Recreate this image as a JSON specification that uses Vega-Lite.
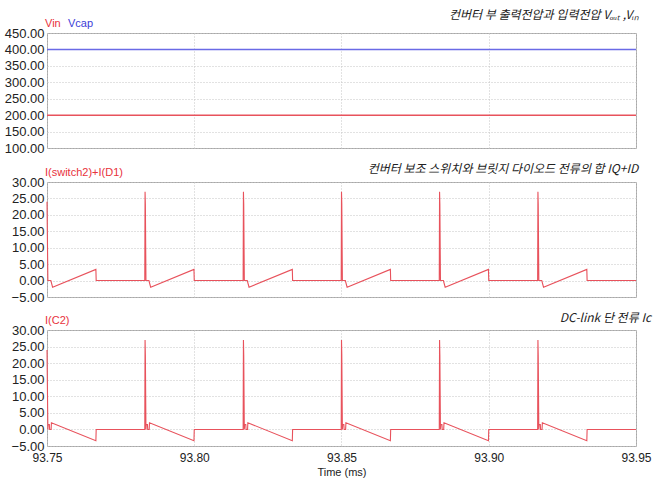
{
  "$schema": "https://vega.github.io/schema/vega-lite/v6.json",
  "padding": {"left": 3, "top": 8, "right": 5, "bottom": 2},
  "background": "white",
  "spacing": 6,
  "config": {
    "view": {"stroke": "#a8a8a8", "strokeWidth": 1},
    "font": "Liberation Sans",
    "axis": {"gridColor": "#c4c4c4", "gridDash": [1, 2], "domain": false, "ticks": false, "labelFontSize": 13, "labelColor": "#222222", "labelFont": "Liberation Sans", "labelPadding": 3},
    "title": {"font": "Noto Sans CJK KR", "fontStyle": "italic", "fontWeight": "normal", "fontSize": 12, "anchor": "end", "color": "#222222", "offset": -4},
    "legend": {"orient": "none", "legendX": -3, "legendY": -15, "direction": "horizontal", "title": null, "symbolSize": 0, "symbolStrokeWidth": 0, "symbolOpacity": 0, "labelOffset": -10, "columnPadding": 6, "labelFontSize": 11, "labelFont": "Liberation Sans"}
  },
  "resolve": {"scale": {"color": "independent"}, "legend": {"color": "independent"}},
  "datasets": {
    "volt": [
      {"t": 93.75, "v": 200, "s": "Vin"}, {"t": 93.95, "v": 200, "s": "Vin"},
      {"t": 93.75, "v": 400, "s": "Vcap"}, {"t": 93.95, "v": 400, "s": "Vcap"}
    ],
    "isw": [
      {"t": 93.75, "v": 24}, {"t": 93.7503, "v": 0}, {"t": 93.7513, "v": 0}, {"t": 93.7519, "v": -2.0}, {"t": 93.7666, "v": 3.4}, {"t": 93.7667, "v": 0},
      {"t": 93.7832, "v": 0}, {"t": 93.7833, "v": 27}, {"t": 93.7834, "v": 23.3}, {"t": 93.7836, "v": 0}, {"t": 93.7846, "v": 0}, {"t": 93.7852, "v": -2.0}, {"t": 93.7999, "v": 3.4}, {"t": 93.8000, "v": 0},
      {"t": 93.8166, "v": 0}, {"t": 93.8167, "v": 27}, {"t": 93.8168, "v": 23.3}, {"t": 93.8170, "v": 0}, {"t": 93.8180, "v": 0}, {"t": 93.8186, "v": -2.0}, {"t": 93.8333, "v": 3.4}, {"t": 93.8334, "v": 0},
      {"t": 93.8499, "v": 0}, {"t": 93.8500, "v": 27}, {"t": 93.8501, "v": 23.3}, {"t": 93.8503, "v": 0}, {"t": 93.8513, "v": 0}, {"t": 93.8519, "v": -2.0}, {"t": 93.8666, "v": 3.4}, {"t": 93.8667, "v": 0},
      {"t": 93.8832, "v": 0}, {"t": 93.8833, "v": 27}, {"t": 93.8834, "v": 23.3}, {"t": 93.8836, "v": 0}, {"t": 93.8846, "v": 0}, {"t": 93.8852, "v": -2.0}, {"t": 93.8999, "v": 3.4}, {"t": 93.9000, "v": 0},
      {"t": 93.9166, "v": 0}, {"t": 93.9167, "v": 27}, {"t": 93.9168, "v": 23.3}, {"t": 93.9170, "v": 0}, {"t": 93.9180, "v": 0}, {"t": 93.9186, "v": -2.0}, {"t": 93.9333, "v": 3.4}, {"t": 93.9334, "v": 0},
      {"t": 93.95, "v": 0}
    ],
    "ic2": [
      {"t": 93.75, "v": 24}, {"t": 93.7503, "v": 0}, {"t": 93.7504, "v": 1.5}, {"t": 93.7508, "v": 1.5}, {"t": 93.7509, "v": 0}, {"t": 93.7514, "v": 0}, {"t": 93.7515, "v": 2.0}, {"t": 93.7666, "v": -3.4}, {"t": 93.7667, "v": 0},
      {"t": 93.7832, "v": 0}, {"t": 93.7833, "v": 27}, {"t": 93.7834, "v": 22.5}, {"t": 93.7836, "v": 0}, {"t": 93.7837, "v": 1.5}, {"t": 93.7841, "v": 1.5}, {"t": 93.7842, "v": 0}, {"t": 93.7847, "v": 0}, {"t": 93.7848, "v": 2.0}, {"t": 93.7999, "v": -3.4}, {"t": 93.8000, "v": 0},
      {"t": 93.8166, "v": 0}, {"t": 93.8167, "v": 27}, {"t": 93.8168, "v": 22.5}, {"t": 93.8170, "v": 0}, {"t": 93.8171, "v": 1.5}, {"t": 93.8175, "v": 1.5}, {"t": 93.8176, "v": 0}, {"t": 93.8181, "v": 0}, {"t": 93.8182, "v": 2.0}, {"t": 93.8333, "v": -3.4}, {"t": 93.8334, "v": 0},
      {"t": 93.8499, "v": 0}, {"t": 93.8500, "v": 27}, {"t": 93.8501, "v": 22.5}, {"t": 93.8503, "v": 0}, {"t": 93.8504, "v": 1.5}, {"t": 93.8508, "v": 1.5}, {"t": 93.8509, "v": 0}, {"t": 93.8514, "v": 0}, {"t": 93.8515, "v": 2.0}, {"t": 93.8666, "v": -3.4}, {"t": 93.8667, "v": 0},
      {"t": 93.8832, "v": 0}, {"t": 93.8833, "v": 27}, {"t": 93.8834, "v": 22.5}, {"t": 93.8836, "v": 0}, {"t": 93.8837, "v": 1.5}, {"t": 93.8841, "v": 1.5}, {"t": 93.8842, "v": 0}, {"t": 93.8847, "v": 0}, {"t": 93.8848, "v": 2.0}, {"t": 93.8999, "v": -3.4}, {"t": 93.9000, "v": 0},
      {"t": 93.9166, "v": 0}, {"t": 93.9167, "v": 27}, {"t": 93.9168, "v": 22.5}, {"t": 93.9170, "v": 0}, {"t": 93.9171, "v": 1.5}, {"t": 93.9175, "v": 1.5}, {"t": 93.9176, "v": 0}, {"t": 93.9181, "v": 0}, {"t": 93.9182, "v": 2.0}, {"t": 93.9333, "v": -3.4}, {"t": 93.9334, "v": 0},
      {"t": 93.95, "v": 0}
    ]
  },
  "vconcat": [
    {
      "width": 589, "height": 115,
      "title": {"text": "컨버터 부 출력전압과 입력전압 Vₒᵤₜ ,Vᵢₙ", "offset": -4},
      "data": {"name": "volt"},
      "mark": {"type": "line", "strokeWidth": 1.5},
      "encoding": {
        "x": {"field": "t", "type": "quantitative", "scale": {"domain": [93.75, 93.95], "nice": false, "zero": false},
              "axis": {"values": [93.75, 93.8, 93.85, 93.9, 93.95], "labels": false, "title": null, "grid": true}},
        "y": {"field": "v", "type": "quantitative", "scale": {"domain": [100, 450], "nice": false, "zero": false},
              "axis": {"values": [100, 150, 200, 250, 300, 350, 400, 450], "format": ".2f", "title": null}},
        "color": {"field": "s", "type": "nominal", "scale": {"domain": ["Vin", "Vcap"], "range": ["#e8525c", "#6a6ae6"]},
                  "legend": {"labelColor": {"expr": "datum.value === 'Vcap' ? '#3c3cd8' : '#e8323c'"}}}
      }
    },
    {
      "width": 589, "height": 115,
      "title": {"text": "컨버터 보조 스위치와 브릿지 다이오드 전류의 합 IQ+ID", "offset": -9},
      "data": {"name": "isw"},
      "mark": {"type": "line", "strokeWidth": 1.1},
      "encoding": {
        "x": {"field": "t", "type": "quantitative", "scale": {"domain": [93.75, 93.95], "nice": false, "zero": false},
              "axis": {"values": [93.75, 93.8, 93.85, 93.9, 93.95], "labels": false, "title": null, "grid": true}},
        "y": {"field": "v", "type": "quantitative", "scale": {"domain": [-5, 30], "nice": false, "zero": false},
              "axis": {"values": [-5, 0, 5, 10, 15, 20, 25, 30], "format": ".2f", "title": null}},
        "color": {"datum": "I(switch2)+I(D1)", "type": "nominal", "scale": {"range": ["#e8525c"]},
                  "legend": {"labelColor": "#e8323c"}}
      }
    },
    {
      "width": 589, "height": 116,
      "title": {"text": "DC-link 단 전류 Ic", "offset": -10},
      "data": {"name": "ic2"},
      "mark": {"type": "line", "strokeWidth": 1.1},
      "encoding": {
        "x": {"field": "t", "type": "quantitative", "scale": {"domain": [93.75, 93.95], "nice": false, "zero": false},
              "axis": {"values": [93.75, 93.8, 93.85, 93.9, 93.95], "format": ".2f", "labelFlush": false, "labelPadding": 6, "labelFontSize": 12, "title": "Time (ms)", "titleFontWeight": "normal", "titleFontSize": 11, "titlePadding": 3, "titleColor": "#222222", "grid": true}},
        "y": {"field": "v", "type": "quantitative", "scale": {"domain": [-5, 30], "nice": false, "zero": false},
              "axis": {"values": [-5, 0, 5, 10, 15, 20, 25, 30], "format": ".2f", "title": null}},
        "color": {"datum": "I(C2)", "type": "nominal", "scale": {"range": ["#e8525c"]},
                  "legend": {"labelColor": "#e8323c"}}
      }
    }
  ]
}
